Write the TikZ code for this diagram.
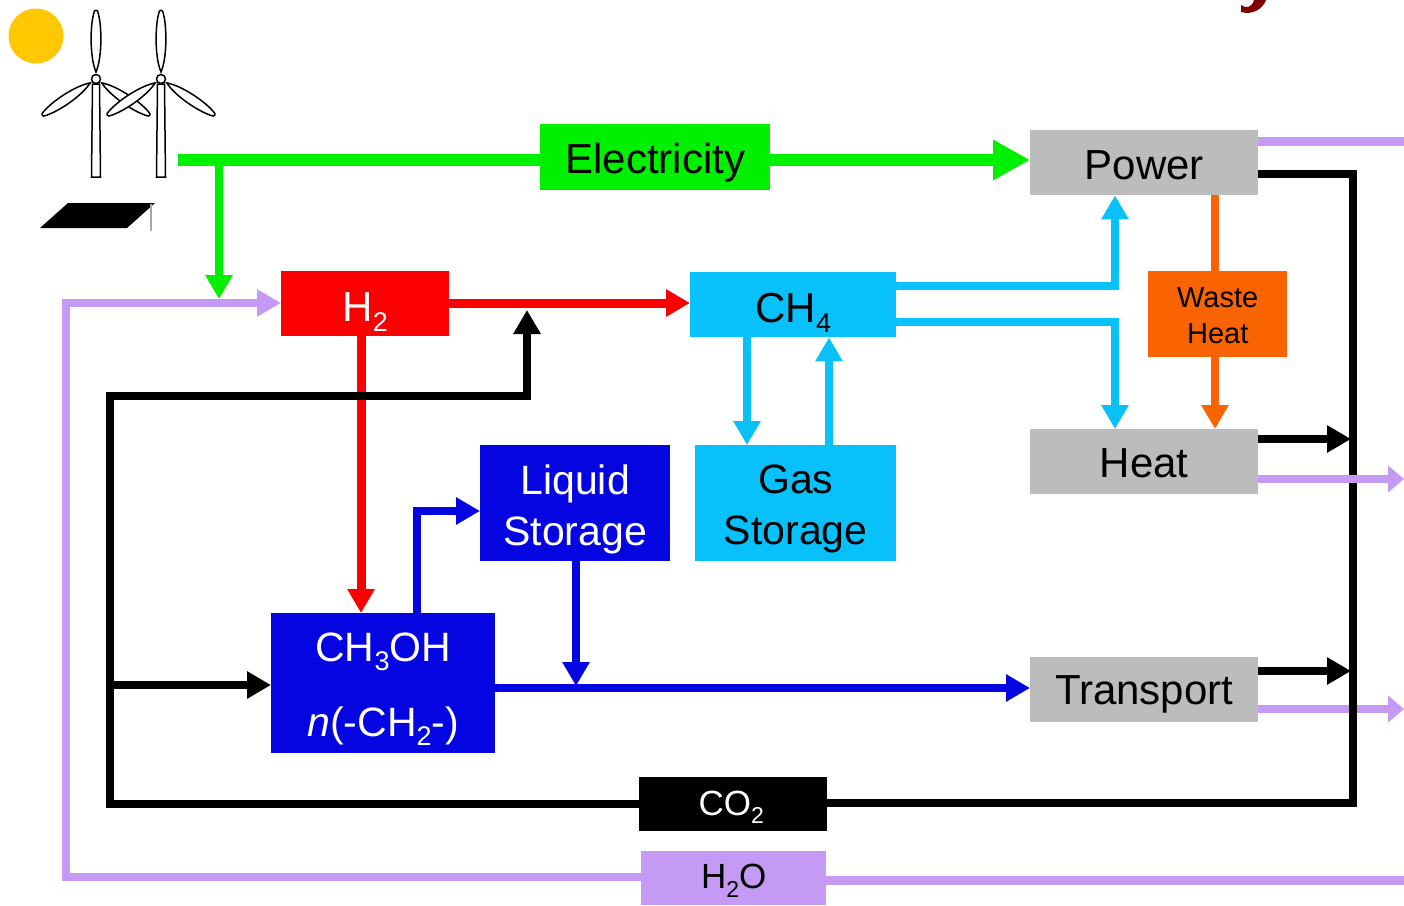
\documentclass[tikz,border=0pt]{standalone}
\usepackage{fontspec}
\setmainfont{Liberation Sans}
\usetikzlibrary{arrows.meta,calc}
\definecolor{cgreen}{HTML}{00F000}
\definecolor{cred}{HTML}{FA0000}
\definecolor{ccyan}{HTML}{08C0FA}
\definecolor{cblue}{HTML}{0505E2}
\definecolor{cgrey}{HTML}{BCBCBC}
\definecolor{corange}{HTML}{FA6400}
\definecolor{cpurple}{HTML}{C49AF5}
\definecolor{csun}{HTML}{FFC800}
\definecolor{cmaroon}{HTML}{800000}
\newcommand{\sbs}[3]{\smash{\raisebox{-#1pt}{\fontsize{#2}{#2}\selectfont #3}}}
\tikzset{
  x=1pt,y=-1pt,
  boxn/.style={draw=none,inner sep=0pt,anchor=north west},
  lab/.style={yshift=#1,inner sep=0pt,align=center},
  flow/.style={line width=#1,line join=miter,line cap=butt},
  flow/.default=8.5pt,
  tip/.style={-{Triangle[length=37pt,width=38pt]}},
  tipsmall/.style={-{Triangle[length=24pt,width=26pt]}},
  tipedge/.style={-{Triangle[length=16pt,width=26pt]}},
  blade/.style={draw=black,fill=white,line width=1.5pt},
  big/.style={font=\fontsize{42}{50}\selectfont},
  two/.style={font=\fontsize{41}{51}\selectfont},
  small/.style={font=\fontsize{35}{42}\selectfont},
}
\newcommand{\turbineblade}[3]{%
  \begin{scope}[shift={(#1)},rotate=#2]
    \draw[blade] (0,-7) .. controls (-6.5,-22) and (-6,-#3+12) .. (-1.5,-#3) .. controls (-.5,-#3-1) and (.5,-#3-1) .. (1.5,-#3) .. controls (6,-#3+12) and (6.5,-22) .. (0,-7) -- cycle;
  \end{scope}}
\begin{document}
\begin{tikzpicture}
\useasboundingbox (0,0) rectangle (1404,905);
\fill[white] (0,0) rectangle (1404,905);
% title fragment
\fill[cmaroon] (1241,5) .. controls (1247,9) and (1252,7) .. (1254,0) -- (1266,0) .. controls (1262,10) and (1252,15) .. (1241,12) -- cycle;
% sun and panel
\node[circle,fill=csun,minimum size=55pt,inner sep=0pt] (sun) at (36,36) {};
\fill[black] (40,228) -- (68,203) -- (155,203) -- (127,228) -- cycle;
\draw[gray!70,line width=1.5pt] (151,204) -- (151,231);
% turbines
\coordinate (hubA) at (96,79);
\coordinate (hubB) at (161,79);
\foreach \h/\xa in {hubA/96,hubB/161}{
  \draw[blade] (\xa-3.5,84) -- (\xa-4.5,177) -- (\xa+4.5,177) -- (\xa+3.5,84) -- cycle;
}
\turbineblade{hubA}{124}{64}
\turbineblade{hubA}{236}{64}
\turbineblade{hubA}{0}{68}
\turbineblade{hubB}{124}{64}
\turbineblade{hubB}{236}{64}
\turbineblade{hubB}{0}{68}
\node[circle,draw=black,fill=white,line width=1.5pt,minimum size=9pt,inner sep=0pt] (hA) at (hubA) {};
\node[circle,draw=black,fill=white,line width=1.5pt,minimum size=9pt,inner sep=0pt] (hB) at (hubB) {};
% nodes
\node[boxn,fill=cgreen,minimum width=230pt,minimum height=66pt,label={[lab=-5pt,big]center:Electricity}] (elec) at (540,124) {};
\node[boxn,fill=cgrey,minimum width=228pt,minimum height=65pt,label={[lab=-3pt,big]center:Power}] (power) at (1030,130) {};
\node[boxn,fill=cred,minimum width=168pt,minimum height=65pt,label={[lab=-3pt,big,text=white]center:H\sbs{10}{27}{2}}] (h2) at (281,271) {};
\node[boxn,fill=ccyan,minimum width=206pt,minimum height=65pt,label={[lab=-3pt,big]center:CH\sbs{10}{27}{4}}] (ch4) at (690,272) {};
\node[boxn,fill=corange,minimum width=139pt,minimum height=86pt,label={[lab=-1.5pt,font=\fontsize{29}{36}\selectfont]center:Waste\\Heat}] (waste) at (1148,271) {};
\node[boxn,fill=ccyan,minimum width=201pt,minimum height=116pt,label={[lab=-6pt,two]center:Gas\\Storage}] (gas) at (695,445) {};
\node[boxn,fill=cblue,minimum width=190pt,minimum height=116pt,label={[lab=-6pt,two,text=white]center:Liquid\\Storage}] (liq) at (480,445) {};
\node[boxn,fill=cgrey,minimum width=228pt,minimum height=65pt,label={[lab=-2pt,big]center:Heat}] (heat) at (1030,429) {};
\node[boxn,fill=cblue,minimum width=224pt,minimum height=140pt,label={[lab=-5.5pt,text=white,font=\fontsize{41}{75}\selectfont]center:CH\sbs{9}{27}{3}OH\\\textit{n}(-CH\sbs{9}{27}{2}-)}] (meth) at (271,613) {};
\node[boxn,fill=cgrey,minimum width=228pt,minimum height=65pt,label={[lab=-5pt,big]center:Transport}] (trans) at (1030,657) {};
\node[boxn,fill=black,minimum width=188pt,minimum height=54pt,label={[lab=1pt,xshift=-2pt,small,text=white]center:CO\sbs{8}{23}{2}}] (co2) at (639,777) {};
\node[boxn,fill=cpurple,minimum width=185pt,minimum height=54pt,label={[lab=2pt,small]center:H\sbs{9}{23}{2}O}] (h2o) at (641,851) {};
% free ends
\coordinate (src) at (178,160);
\coordinate (edgeP) at (1404,141);
\coordinate (edgeH) at (1404,479);
\coordinate (edgeT) at (1404,709);
\coordinate (edgeW) at (1404,880);
\coordinate (busB) at (1351,439);
\coordinate (busT) at (1351,671);
% green
\draw[flow=12pt,cgreen] (src) -- (elec.west |- src);
\draw[flow=12pt,cgreen,tip] (elec.east |- src) -- (power.west |- src);
\draw[flow=8pt,cgreen,tipsmall] (219,160) -- (219,299);
% purple (below black at Transport)
\draw[flow=8pt,cpurple,tipsmall] (h2o.west |- 0,877) -- (66,877) -- (66,303) -- (h2.west |- 66,303);
\draw[flow=9pt,cpurple] (h2o.east |- 0,880) -- (edgeW);
\draw[flow=9pt,cpurple] (power.east |- edgeP) -- (edgeP);
\draw[flow=8pt,cpurple,tipedge] (trans.east |- edgeT) -- (edgeT);
% red
\draw[flow=9pt,cred,tipsmall] (h2.east |- 0,303) -- (ch4.west |- 0,303);
\draw[flow=9pt,cred,tipsmall] (361,336) -- (361,613);
% black
\draw[flow=8.5pt,black] (power.east |- 0,174) -- (1353,174) -- (1353,803) -- (co2.east |- 0,803);
\draw[flow=8pt,black,tipsmall] (co2.west |- 0,804) -- (110,804) -- (110,396) -- (527,396) -- (527,310);
\draw[flow=8pt,black,tipsmall] (110,685) -- (meth.west |- 0,685);
\draw[flow=8.5pt,black,tipsmall] (heat.east |- busB) -- (busB);
\draw[flow=8.5pt,black,tipsmall] (trans.east |- busT) -- (busT);
% purple over black at Heat
\draw[flow=8pt,cpurple,tipedge] (heat.east |- edgeH) -- (edgeH);
% blue
\draw[flow=8.5pt,cblue,tipsmall] (417,613) -- (417,511) -- (liq.west |- 0,511);
\draw[flow=8.5pt,cblue,tipsmall] (576,561) -- (576,686);
\draw[flow=8.5pt,cblue,tipsmall] (meth.east |- 0,688) -- (trans.west |- 0,688);
% cyan
\draw[flow=8.5pt,ccyan,tipsmall] (ch4.east |- 0,286) -- (1115,286) -- (power.south -| 1115,0);
\draw[flow=8.5pt,ccyan,tipsmall] (ch4.east |- 0,322) -- (1115,322) -- (heat.north -| 1115,0);
\draw[flow=8.5pt,ccyan,tipsmall] (ch4.south -| 747,0) -- (gas.north -| 747,0);
\draw[flow=8.5pt,ccyan,tipsmall] (gas.north -| 829,0) -- (ch4.south -| 829,0);
% orange
\draw[flow=8.5pt,corange] (power.south -| 1215,0) -- (waste.north -| 1215,0);
\draw[flow=8.5pt,corange,tipsmall] (waste.south -| 1215,0) -- (heat.north -| 1215,0);
\end{tikzpicture}
\end{document}
